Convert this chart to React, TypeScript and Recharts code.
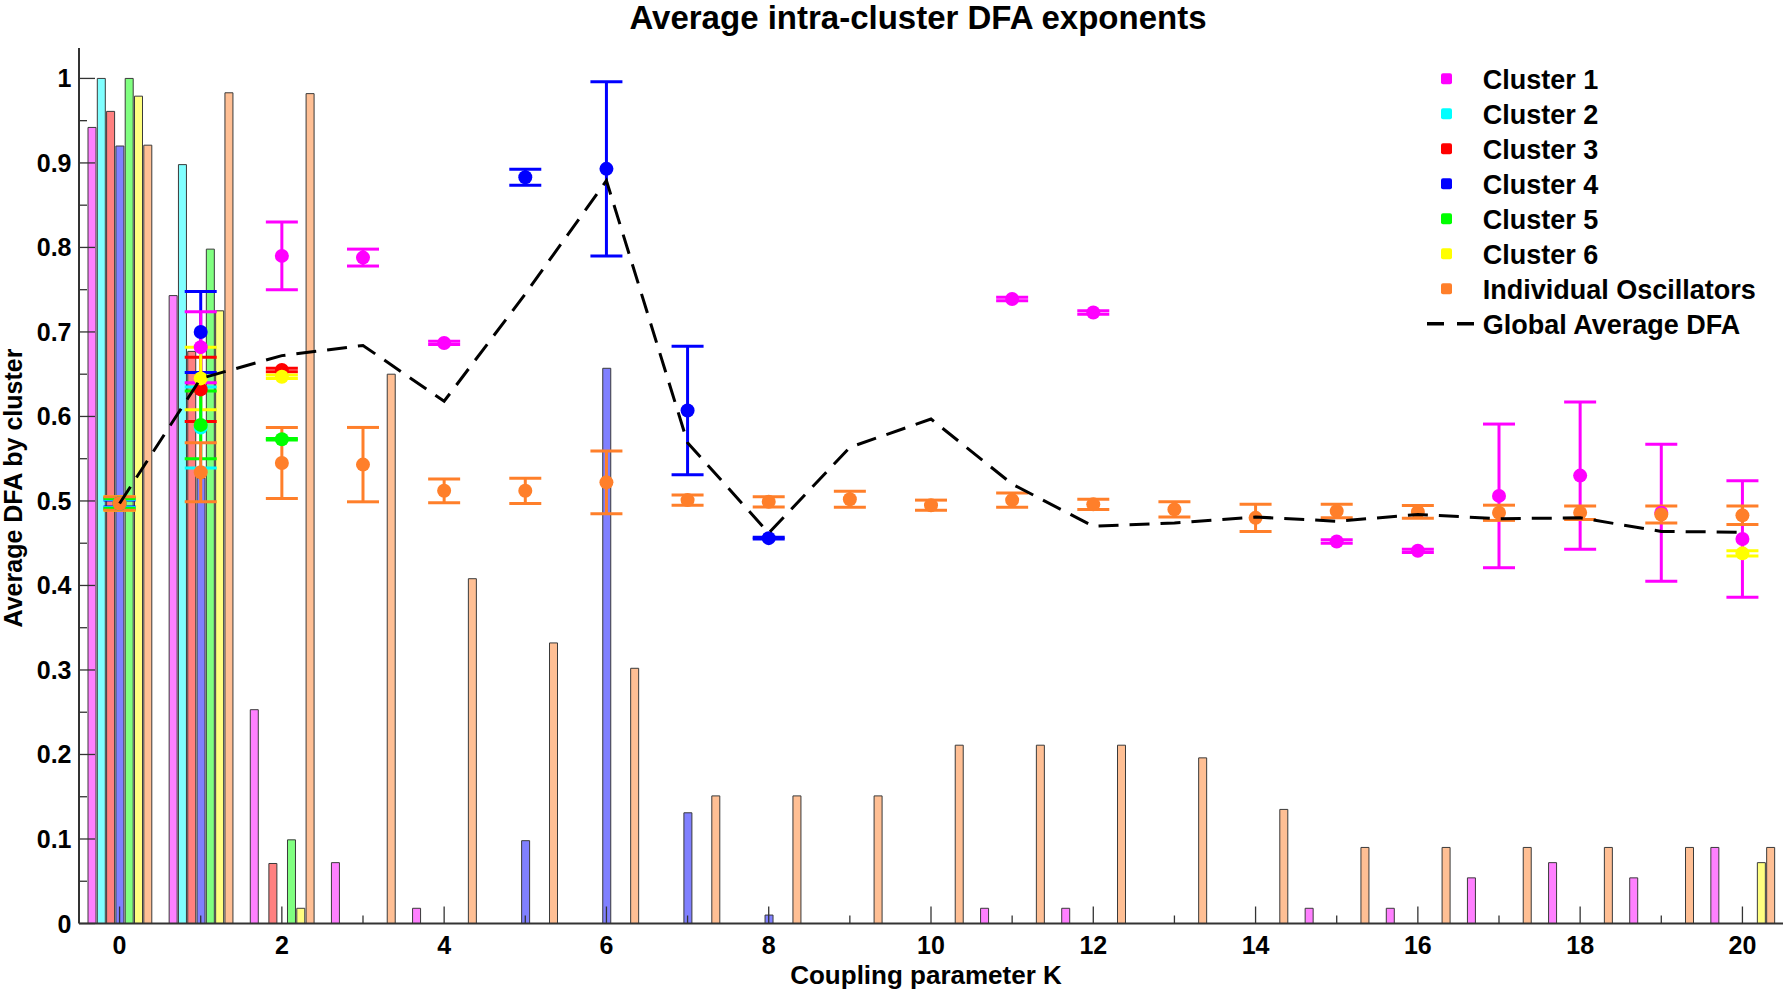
import React from 'react';
import { ComposedChart, Bar, Scatter, Line, XAxis, YAxis, ErrorBar } from 'recharts';

// coupling parameter K
const K_VALUES = [0, 1, 2, 3, 4, 5, 6, 7, 8, 9, 10, 11, 12, 13, 14, 15, 16, 17, 18, 19, 20];

// bar heights per cluster (fraction), null = no bar
const BAR_C1 = [0.942, 0.743, 0.253, 0.072, 0.018, null, null, null, null, null, null, 0.018, 0.018, null, null, 0.018, 0.018, 0.054, 0.072, 0.054, 0.09];
const BAR_C2 = [1.0, 0.898, null, null, null, null, null, null, null, null, null, null, null, null, null, null, null, null, null, null, null];
const BAR_C3 = [0.961, 0.677, 0.071, null, null, null, null, null, null, null, null, null, null, null, null, null, null, null, null, null, null];
const BAR_C4 = [0.92, 0.527, null, null, null, 0.098, 0.657, 0.131, 0.01, null, null, null, null, null, null, null, null, null, null, null, null];
const BAR_C5 = [1.0, 0.798, 0.099, null, null, null, null, null, null, null, null, null, null, null, null, null, null, null, null, null, null];
const BAR_C6 = [0.979, 0.725, 0.018, null, null, null, null, null, null, null, null, null, null, null, null, null, null, null, null, null, 0.072];
const BAR_IND = [0.921, 0.983, 0.982, 0.65, 0.408, 0.332, 0.302, 0.151, 0.151, 0.151, 0.211, 0.211, 0.211, 0.196, 0.135, 0.09, 0.09, 0.09, 0.09, 0.09, 0.09];

// cluster mean DFA and error
const C1_K = [0, 1, 2, 3, 4, 11, 12, 15, 16, 17, 18, 19, 20];
const C1_MEAN = [0.497, 0.682, 0.79, 0.788, 0.687, 0.739, 0.723, 0.452, 0.441, 0.506, 0.53, 0.486, 0.455];
const C1_ERR = [0.006, 0.042, 0.04, 0.01, 0.002, 0.002, 0.002, 0.002, 0.002, 0.085, 0.087, 0.081, 0.069];

const C2_K = [0, 1];
const C2_MEAN = [0.497, 0.587];
const C2_ERR = [0.005, 0.048];

const C3_K = [0, 1, 2];
const C3_MEAN = [0.497, 0.632, 0.655];
const C3_ERR = [0.007, 0.038, 0.002];

const C4_K = [0, 1, 5, 6, 7, 8];
const C4_MEAN = [0.497, 0.7, 0.883, 0.893, 0.607, 0.456];
const C4_ERR = [0.004, 0.048, 0.0095, 0.103, 0.076, 0.001];

const C5_K = [0, 1, 2];
const C5_MEAN = [0.497, 0.59, 0.573];
const C5_ERR = [0.006, 0.04, 0.001];

const C6_K = [0, 1, 2, 20];
const C6_MEAN = [0.497, 0.645, 0.647, 0.438];
const C6_ERR = [0.008, 0.037, 0.002, 0.003];

const IND_MEAN = [0.497, 0.534, 0.545, 0.543, 0.512, 0.512, 0.522, 0.501, 0.499, 0.502, 0.495, 0.501, 0.496, 0.49, 0.48, 0.488, 0.487, 0.486, 0.486, 0.484, 0.483];
const IND_ERR = [0.008, 0.035, 0.042, 0.044, 0.014, 0.015, 0.037, 0.006, 0.006, 0.0095, 0.006, 0.0085, 0.006, 0.009, 0.016, 0.008, 0.0075, 0.009, 0.008, 0.01, 0.011];

const GLOBAL_AVG = [0.497, 0.645, 0.672, 0.684, 0.618, 0.745, 0.879, 0.569, 0.462, 0.5635, 0.597, 0.52, 0.47, 0.474, 0.481, 0.476, 0.484, 0.479, 0.48, 0.464, 0.463];

const Y_MAJOR = [0, 0.1, 0.2, 0.3, 0.4, 0.5, 0.6, 0.7, 0.8, 0.9, 1];
const Y_MINOR = [0.05, 0.15, 0.25, 0.35, 0.45, 0.55, 0.65, 0.75, 0.85, 0.95];
const X_MAJOR = [0, 2, 4, 6, 8, 10, 12, 14, 16, 18, 20];

const LEGEND_LABELS = ['Cluster 1', 'Cluster 2', 'Cluster 3', 'Cluster 4', 'Cluster 5', 'Cluster 6', 'Individual Oscillators'];
const MARK_COLORS = ['#ff00ff', '#00ffff', '#ff0000', '#0000ff', '#00ff00', '#ffff00', '#ff7f2a'];
const BAR_COLORS = ['#ff80ff', '#80ffff', '#ff8080', '#8080ff', '#80ff80', '#ffff80', '#ffbf94'];

const W = 1785;
const H = 992;
const PLOT_LEFT = 79;
const PLOT_TOP = 48;
const PLOT_BOTTOM = 923.5;
const Y_AXIS_W = 60;
const X_AXIS_H = 30;
const FONT = '"Liberation Sans", Arial, sans-serif';

const rows = K_VALUES.map((k, i) => ({
  k,
  c1: BAR_C1[i],
  c2: BAR_C2[i],
  c3: BAR_C3[i],
  c4: BAR_C4[i],
  c5: BAR_C5[i],
  c6: BAR_C6[i],
  ind: BAR_IND[i],
  g: GLOBAL_AVG[i],
}));

const toPoints = (ks: number[], means: number[], errs: number[]) =>
  ks.map((k, i) => ({ k, v: means[i], err: errs[i] }));

// draw order matters at K=1 where everything overlaps
const SERIES = [
  { id: 'c4', color: MARK_COLORS[3], pts: toPoints(C4_K, C4_MEAN, C4_ERR) },
  { id: 'c1', color: MARK_COLORS[0], pts: toPoints(C1_K, C1_MEAN, C1_ERR) },
  { id: 'c3', color: MARK_COLORS[2], pts: toPoints(C3_K, C3_MEAN, C3_ERR) },
  { id: 'c2', color: MARK_COLORS[1], pts: toPoints(C2_K, C2_MEAN, C2_ERR) },
  { id: 'c6', color: MARK_COLORS[5], pts: toPoints(C6_K, C6_MEAN, C6_ERR) },
  { id: 'c5', color: MARK_COLORS[4], pts: toPoints(C5_K, C5_MEAN, C5_ERR) },
  { id: 'ind', color: MARK_COLORS[6], pts: toPoints(K_VALUES, IND_MEAN, IND_ERR) },
];

const BAR_KEYS = ['c1', 'c2', 'c3', 'c4', 'c5', 'c6', 'ind'];

const YTick = (props: any) => {
  const { y, payload } = props;
  const major = Y_MAJOR.indexOf(payload.value) >= 0;
  return (
    <g>
      <line x1={PLOT_LEFT} x2={PLOT_LEFT + (major ? 16 : 8)} y1={y} y2={y} stroke="#333" strokeWidth={1.3} />
      {major && (
        <text x={71.5} y={y + 9} textAnchor="end" fontFamily={FONT} fontWeight="bold" fontSize={25} fill="#000">
          {String(payload.value)}
        </text>
      )}
    </g>
  );
};

const XTick = (props: any) => {
  const { x, payload } = props;
  const major = X_MAJOR.indexOf(payload.value) >= 0;
  return (
    <g>
      <line x1={x} x2={x} y1={PLOT_BOTTOM} y2={PLOT_BOTTOM - (major ? 17 : 8)} stroke="#333" strokeWidth={1.3} />
      {major && (
        <text x={x} y={954} textAnchor="middle" fontFamily={FONT} fontWeight="bold" fontSize={25} fill="#000">
          {String(payload.value)}
        </text>
      )}
    </g>
  );
};

const dotShape = (color: string) => (p: any) =>
  p.cx == null ? <g /> : <circle cx={p.cx} cy={p.cy} r={7} fill={color} />;

export default function App() {
  return (
    <div style={{ position: 'absolute', left: 0, top: 0, width: W, height: H, background: '#fff', fontFamily: FONT }}>
      <ComposedChart
        width={W}
        height={H}
        data={rows}
        margin={{ top: PLOT_TOP, right: 2, bottom: H - PLOT_BOTTOM - X_AXIS_H, left: PLOT_LEFT - Y_AXIS_W }}
        barGap={1.3}
      >
        {BAR_KEYS.map((key, i) => (
          <Bar
            key={key}
            dataKey={key}
            barSize={8}
            fill={BAR_COLORS[i]}
            stroke="#3a3a3a"
            strokeWidth={1}
            isAnimationActive={false}
          />
        ))}
        <XAxis
          dataKey="k"
          type="number"
          domain={[-0.5, 20.5]}
          allowDataOverflow
          ticks={K_VALUES}
          interval={0}
          height={X_AXIS_H}
          tickLine={false}
          axisLine={{ stroke: '#333', strokeWidth: 2 }}
          tick={<XTick />}
        />
        <YAxis
          type="number"
          domain={[0, 1.036]}
          allowDataOverflow
          ticks={[...Y_MAJOR, ...Y_MINOR]}
          interval={0}
          width={Y_AXIS_W}
          tickLine={false}
          axisLine={{ stroke: '#333', strokeWidth: 2 }}
          tick={<YTick />}
        />
        {SERIES.map((s) => (
          <Scatter key={s.id} data={s.pts} dataKey="v" fill={s.color} shape={dotShape(s.color)} isAnimationActive={false}>
            <ErrorBar dataKey="err" direction="y" width={16} stroke={s.color} strokeWidth={3} isAnimationActive={false} />
          </Scatter>
        ))}
        <Line
          dataKey="g"
          type="linear"
          stroke="#000"
          strokeWidth={3}
          strokeDasharray="20 11"
          dot={false}
          activeDot={false}
          isAnimationActive={false}
          zIndex={700}
        />
      </ComposedChart>

      <svg width={W} height={H} style={{ position: 'absolute', left: 0, top: 0, pointerEvents: 'none' }}>
        <text x={918} y={29} textAnchor="middle" fontFamily={FONT} fontWeight="bold" fontSize={33} fill="#000">
          Average intra-cluster DFA exponents
        </text>
        <text x={926} y={984} textAnchor="middle" fontFamily={FONT} fontWeight="bold" fontSize={26} fill="#000">
          Coupling parameter K
        </text>
        <text
          x={22}
          y={488}
          textAnchor="middle"
          transform="rotate(-90 22 488)"
          fontFamily={FONT}
          fontWeight="bold"
          fontSize={25}
          fill="#000"
        >
          Average DFA by cluster
        </text>
        {LEGEND_LABELS.map((label, i) => {
          const cy = 78.8 + i * 35;
          return (
            <g key={label}>
              <rect x={1441} y={cy - 5.5} width={11} height={11} rx={2} fill={MARK_COLORS[i]} />
              <text x={1482.7} y={cy + 9.7} fontFamily={FONT} fontWeight="bold" fontSize={27} fill="#000">
                {label}
              </text>
            </g>
          );
        })}
        <line x1={1427} x2={1474} y1={323.8} y2={323.8} stroke="#000" strokeWidth={3.5} strokeDasharray="17 13" />
        <text x={1482.7} y={323.8 + 9.7} fontFamily={FONT} fontWeight="bold" fontSize={27} fill="#000">
          Global Average DFA
        </text>
      </svg>
    </div>
  );
}
